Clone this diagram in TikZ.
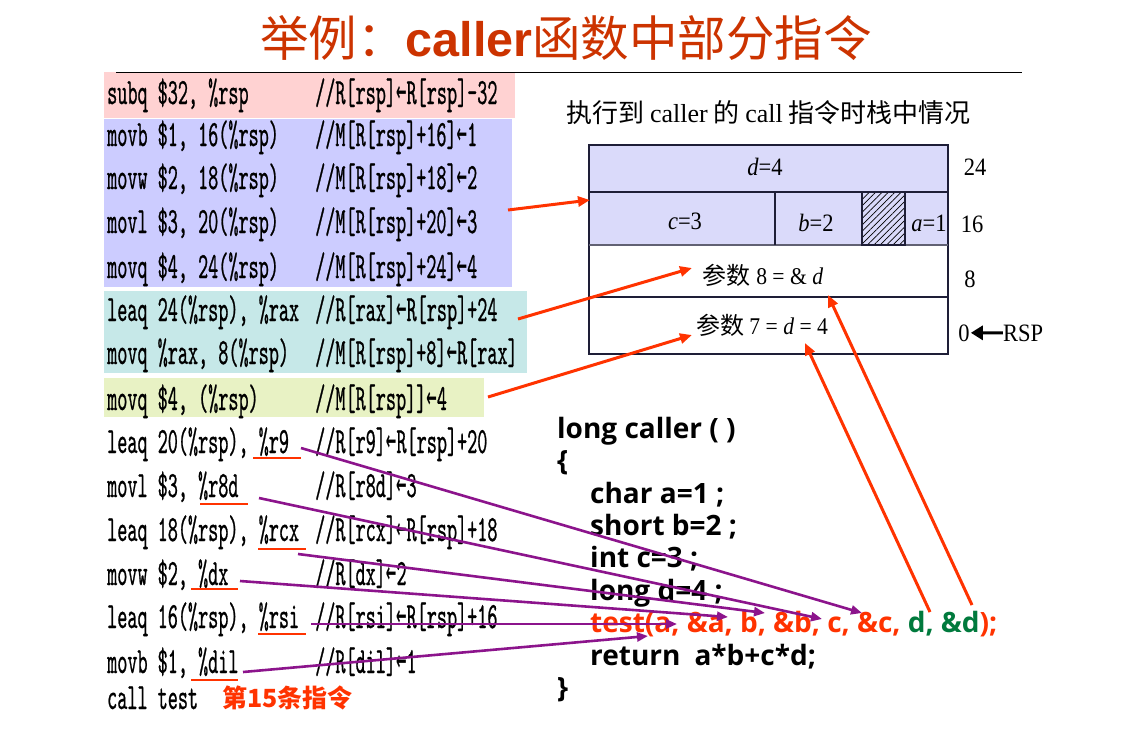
\documentclass[tikz,border=0pt]{standalone}
\usepackage{fontspec}
\usetikzlibrary{arrows.meta,patterns.meta}
\setmainfont{Liberation Serif}
\newfontfamily\cjk{Noto Sans CJK SC}
\newfontfamily\asmfont{lmmono10-regular.otf}[FakeStretch=0.52,FakeBold=0.6]
\newfontfamily\arrfont{DejaVu Sans Bold}[FakeStretch=0.45]
\newfontfamily\stkfont{Liberation Serif}[FakeStretch=0.9]
\newfontfamily\csans{Open Sans}
\newfontfamily\tsans{Liberation Sans}
\definecolor{titlered}{RGB}{204,51,0}
\definecolor{codered}{RGB}{255,51,0}
\definecolor{codegreen}{RGB}{0,122,61}
\definecolor{arrpurple}{RGB}{140,20,140}
\definecolor{pinkbg}{RGB}{255,210,210}
\definecolor{bluebg}{RGB}{204,204,255}
\definecolor{cyanbg}{RGB}{198,232,232}
\definecolor{yellowbg}{RGB}{232,242,196}
\definecolor{stackbg}{RGB}{218,218,250}
\definecolor{stackline}{RGB}{30,30,55}
\newcommand\la{\raisebox{2.5pt}{\arrfont\fontsize{28}{28}\selectfont ←}}
\tikzset{
  asm/.style={anchor=base west, inner sep=0pt, font=\asmfont\fontsize{37}{40}\selectfont},
  ccode/.style={anchor=base west, inner sep=0pt, font=\csans\bfseries\fontsize{28}{30}\selectfont},
  stk/.style={anchor=base, inner sep=0pt, font=\stkfont\fontsize{25}{28}\selectfont},
  redarrow/.style={draw=codered, line width=3pt, -{Triangle[length=12pt,width=10pt]}},
  purparrow/.style={draw=arrpurple, line width=2.6pt, -{Triangle[length=11pt,width=9pt]}},
  ulin/.style={draw=codered, line width=2.5pt},
  cell/.style={draw=stackline, line width=1.4pt}
}
\begin{document}
\begin{tikzpicture}[x=1pt,y=-1pt]
\useasboundingbox (0,0) rectangle (1139,737);
\fill[white] (0,0) rectangle (1139,737);

% title
\node[anchor=base, inner sep=0pt, text=titlered, font=\cjk\fontsize{48.5}{50}\selectfont] (title) at (566,56)
  {举例：{\tsans\bfseries caller}函数中部分指令};

% code backgrounds
\fill[pinkbg] (104,72) rectangle (515,118);
\fill[bluebg] (104,119) rectangle (512,287);
\fill[cyanbg] (104,291) rectangle (527,373);
\fill[yellowbg] (104,378) rectangle (484,417);
\draw[line width=1pt] (116,72) -- (1022,72);

% assembly
\node[asm] (a1) at (107,104) {subq \$32, \%rsp};
\node[asm] (c1) at (315,104) {//R[rsp]\la R[rsp]-32};
\node[asm] (a2) at (107,146) {movb \$1, 16(\%rsp)};
\node[asm] (c2) at (315,146) {//M[R[rsp]+16]\la 1};
\node[asm] (a3) at (107,189) {movw \$2, 18(\%rsp)};
\node[asm] (c3) at (315,189) {//M[R[rsp]+18]\la 2};
\node[asm] (a4) at (107,233) {movl \$3, 20(\%rsp)};
\node[asm] (c4) at (315,233) {//M[R[rsp]+20]\la 3};
\node[asm] (a5) at (107,278) {movq \$4, 24(\%rsp)};
\node[asm] (c5) at (315,278) {//M[R[rsp]+24]\la 4};
\node[asm] (a6) at (107,321) {leaq 24(\%rsp), \%rax};
\node[asm] (c6) at (315,321) {//R[rax]\la R[rsp]+24};
\node[asm] (a7) at (107,364) {movq \%rax, 8(\%rsp)};
\node[asm] (c7) at (315,364) {//M[R[rsp]+8]\la R[rax]};
\node[asm] (a8) at (107,410) {movq \$4, (\%rsp)};
\node[asm] (c8) at (315,410) {//M[R[rsp]]\la 4};
\node[asm] (a9) at (107,453) {leaq 20(\%rsp), \%r9};
\node[asm] (c9) at (315,453) {//R[r9]\la R[rsp]+20};
\node[asm] (a10) at (107,497) {movl \$3, \%r8d};
\node[asm] (c10) at (315,497) {//R[r8d]\la 3};
\node[asm] (a11) at (107,541) {leaq 18(\%rsp), \%rcx};
\node[asm] (c11) at (315,541) {//R[rcx]\la R[rsp]+18};
\node[asm] (a12) at (107,585) {movw \$2, \%dx};
\node[asm] (c12) at (315,585) {//R[dx]\la 2};
\node[asm] (a13) at (107,628) {leaq 16(\%rsp), \%rsi};
\node[asm] (c13) at (315,628) {//R[rsi]\la R[rsp]+16};
\node[asm] (a14) at (107,673) {movb \$1, \%dil};
\node[asm] (c14) at (315,673) {//R[dil]\la 1};
\node[asm] (a15) at (107,709) {call test};
\node[anchor=base west, inner sep=0pt, text=codered, font=\cjk\bfseries\fontsize{25}{28}\selectfont] (n15) at (222,707) {第15条指令};

% register underlines
\draw[ulin] (253,458) -- (301,458);
\draw[ulin] (200,504) -- (248,504);
\draw[ulin] (258,549) -- (306,549);
\draw[ulin] (191,589) -- (238,589);
\draw[ulin] (258,634) -- (306,634);
\draw[ulin] (191,680) -- (238,680);

% stack caption
\node[anchor=base west, inner sep=0pt, font=\cjk\fontsize{26}{28}\selectfont] (cap) at (566,122)
  {执行到 {\rmfamily caller} 的 {\rmfamily call} 指令时栈中情况};

% stack
\fill[stackbg] (589,145) rectangle (948,245);
\draw[cell] (589,145) rectangle (948,354);
\draw[cell] (589,192) -- (948,192);
\draw[draw=stackline!70, line width=2pt] (589,245) -- (948,245);
\draw[cell] (589,297) -- (948,297);
\draw[cell] (775,192) -- (775,245);
\draw[cell, pattern={Lines[angle=45,distance=4.5pt,line width=0.7pt]}] (862,192) rectangle (905,245);

\node[stk] (sd) at (765,175) {\textit{d}=4};
\node[stk] (sc) at (685,229) {\textit{c}=3};
\node[stk] (sb) at (816,231) {\textit{b}=2};
\node[stk] (sa) at (929,231) {\textit{a}=1};
\node[stk, font=\cjk\fontsize{24}{28}\selectfont] (p8) at (763,284) {参数 {\stkfont 8 = \& \textit{d}}};
\node[stk, font=\cjk\fontsize{24}{28}\selectfont] (p7) at (762,334) {参数 {\stkfont 7 = \textit{d} = 4}};
\node[stk] (o24) at (975,175) {24};
\node[stk] (o16) at (972,232) {16};
\node[stk] (o8) at (970,287) {8};
\node[stk] (o0) at (964,341) {0};
\node[stk] (rsp) at (1023,341) {RSP};
\draw[line width=3pt, -{Triangle[length=12pt,width=14pt]}, shorten >=1pt] (rsp.west) -- (o0.east);

% C code
\node[ccode] (l1) at (557,438) {long caller ( )};
\node[ccode] (l2) at (557,470) {\{};
\node[ccode] (l3) at (590,503) {char a=1 ;};
\node[ccode] (l4) at (590,535) {short b=2 ;};
\node[ccode] (l5) at (590,567) {int c=3 ;};
\node[ccode] (l6) at (590,600) {long d=4 ;};
\node[ccode, text=codered] (l7) at (590,632) {test(a, \&a, b, \&b, c, \&c, \textcolor{codegreen}{d, \&d});};
\node[ccode] (l8) at (590,665) {return\hspace{14pt}a*b+c*d;};
\node[ccode] (l9) at (557,697) {\}};

% red connectors
\coordinate (blueR) at (508,210);
\coordinate (cyanR) at (518,319);
\coordinate (yelR) at (488,397);
\coordinate (row2L) at (590,200);
\coordinate (p8L) at (692,268);
\coordinate (p7L) at (692,335);
\coordinate (p7d) at (805,343);
\coordinate (p8d) at (828,295);
\coordinate (argd) at (930,612);
\coordinate (argad) at (972,605);
\draw[redarrow] (blueR) -- (row2L);
\draw[redarrow] (cyanR) -- (p8L);
\draw[redarrow] (yelR) -- (p7L);
\draw[redarrow] (argd) -- (p7d);
\draw[redarrow] (argad) -- (p8d);

% purple connectors
\coordinate (r9) at (301,448);
\coordinate (r8d) at (259,498);
\coordinate (rcx) at (298,554);
\coordinate (dx) at (240,581);
\coordinate (rsi) at (311,624);
\coordinate (dil) at (243,672);
\coordinate (tc) at (862,613);
\coordinate (tcc) at (822,619);
\coordinate (tb) at (765,613);
\coordinate (tbb) at (728,617);
\coordinate (ta) at (677,624);
\coordinate (taa) at (648,636);
\draw[purparrow] (r9) -- (tc);
\draw[purparrow] (r8d) -- (tcc);
\draw[purparrow] (rcx) -- (tb);
\draw[purparrow] (dx) -- (tbb);
\draw[purparrow] (rsi) -- (ta);
\draw[purparrow] (dil) -- (taa);
\end{tikzpicture}
\end{document}
